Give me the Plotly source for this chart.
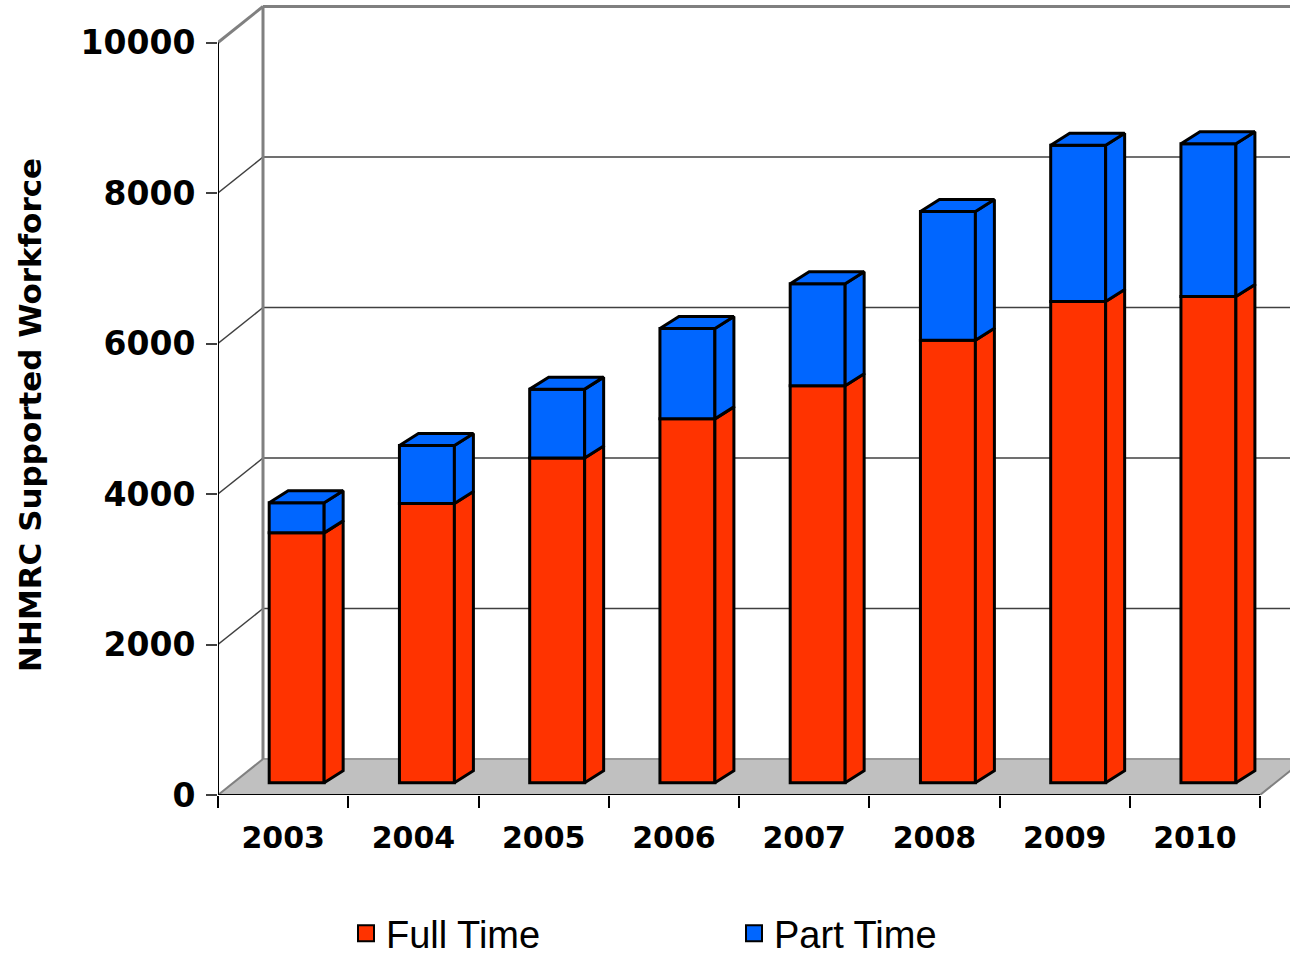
import plotly.graph_objects as go

# data
years = ['2003', '2004', '2005', '2006', '2007', '2008', '2009', '2010']
full_time = [3320, 3710, 4315, 4835, 5275, 5880, 6395, 6460]
part_time = [400, 770, 915, 1200, 1355, 1710, 2075, 2030]
y_ticks = [0, 2000, 4000, 6000, 8000, 10000]
y_tick_text = ['0', '2000', '4000', '6000', '8000', '10000']

RED = '#FF3300'
BLUE = '#0066FF'
GREY = '#808080'

########################################################################### geometry
W, H = 1290, 965
ML, MR, MT, MB = 218, 0, 5, 170
PX_X = 130.25      # px per category
PX_Y = 0.07525     # px per value unit
n = len(years)
x0 = -0.5
x_end = n - 0.5
x1 = x0 + (W - ML - MR) / PX_X
y1 = (H - MT - MB) / PX_Y
YMAX = 10000
DX, DY = 45 / PX_X, 36 / PX_Y       # depth of the walls / floor
BW = 0.422                          # bar width
BOFF = 0.104                        # bar front face offset from category centre
LIFT = 12.3 / PX_Y                  # bar front base above the floor front edge
BDX, BDY = 19 / PX_X, 12 / PX_Y     # bar depth

########################################################################### walls, floor, grid (shapes below traces)
shapes = []


def seg(xa, ya, xb, yb, color, width):
    shapes.append(dict(type='line', xref='x', yref='y', x0=xa, y0=ya, x1=xb, y1=yb,
                       line=dict(color=color, width=width), layer='below'))


floor_path = 'M {a},0 L {b},0 L {c},{d} L {e},{d} Z'.format(a=x0, b=x_end, c=x_end + DX, d=DY, e=x0 + DX)
shapes.append(dict(type='path', xref='x', yref='y', path=floor_path, fillcolor='#C0C0C0',
                   line=dict(width=0), layer='below'))
seg(x0 + DX, DY, x_end + DX, DY, '#9A9A9A', 2)
seg(x0, 0, x0 + DX, DY, GREY, 2)
seg(x_end, 0, x_end + DX, DY, GREY, 2)

for v in y_ticks[1:-1]:
    seg(x0, v, x0 + DX, v + DY, '#404040', 1.5)
    seg(x0 + DX, v + DY, x1 + 1, v + DY, '#404040', 1.5)

seg(x0 + DX, DY, x0 + DX, YMAX + DY, GREY, 3)
seg(x0, YMAX, x0 + DX, YMAX + DY, GREY, 3)
seg(x0 + DX, YMAX + DY, x1 + 1, YMAX + DY, GREY, 3)

# front axes
seg(x0, 0, x0, YMAX, 'black', 2)
seg(x0, 0, x_end, 0, 'black', 2)

########################################################################### bars
fig = go.Figure()

xs_front = [i + BOFF for i in range(n)]
fig.add_trace(go.Bar(x=xs_front, y=full_time, base=[LIFT] * n, width=BW, name='Full Time',
                     marker=dict(color=RED, line=dict(color='black', width=3)), showlegend=False))
fig.add_trace(go.Bar(x=xs_front, y=part_time, base=[LIFT + f for f in full_time], width=BW, name='Part Time',
                     marker=dict(color=BLUE, line=dict(color='black', width=3)), showlegend=False))


def side_faces(bottoms, tops):
    xs, ys = [], []
    for i in range(n):
        xr = i + BOFF + BW / 2
        b, t = bottoms[i], tops[i]
        xs += [xr, xr + BDX, xr + BDX, xr, xr, None]
        ys += [b, b + BDY, t + BDY, t, b, None]
    return xs, ys


red_b = [LIFT] * n
red_t = [LIFT + f for f in full_time]
blue_t = [LIFT + f + p for f, p in zip(full_time, part_time)]

for (bot, top, col) in [(red_b, red_t, RED), (red_t, blue_t, BLUE)]:
    sx, sy = side_faces(bot, top)
    fig.add_trace(go.Scatter(x=sx, y=sy, mode='lines', fill='toself', fillcolor=col,
                             line=dict(color='black', width=3), showlegend=False, hoverinfo='skip'))

tx, ty = [], []
for i in range(n):
    xl = i + BOFF - BW / 2
    xr = i + BOFF + BW / 2
    t = blue_t[i]
    tx += [xl, xl + BDX, xr + BDX, xr, xl, None]
    ty += [t, t + BDY, t + BDY, t, t, None]
fig.add_trace(go.Scatter(x=tx, y=ty, mode='lines', fill='toself', fillcolor=BLUE,
                         line=dict(color='black', width=3), showlegend=False, hoverinfo='skip'))

# legend entries
fig.add_trace(go.Scatter(x=[None], y=[None], mode='markers', name='Full Time', legend='legend',
                         marker=dict(symbol='square', size=16, color=RED, line=dict(color='black', width=2))))
fig.add_trace(go.Scatter(x=[None], y=[None], mode='markers', name='Part Time', legend='legend2',
                         marker=dict(symbol='square', size=16, color=BLUE, line=dict(color='black', width=2))))

# carrier for the boundary tick axis
fig.add_trace(go.Scatter(x=[None], y=[None], xaxis='x2', showlegend=False, hoverinfo='skip'))

########################################################################### layout
bold_font = dict(family='DejaVu Sans', weight='bold', color='black')
leg_font = dict(family='Liberation Sans', size=38, color='black')

fig.update_layout(
    width=W, height=H,
    margin=dict(l=ML, r=MR, t=MT, b=MB, autoexpand=False),
    paper_bgcolor='white', plot_bgcolor='white',
    barmode='overlay',
    shapes=shapes,
    xaxis=dict(range=[x0, x1], tickvals=list(range(n)), ticktext=years, ticks='',
               showgrid=False, zeroline=False, showline=False,
               tickfont=dict(size=30, **bold_font), ticklabelstandoff=22),
    xaxis2=dict(range=[x0, x1], overlaying='x', anchor='y', side='bottom',
                tickvals=[i - 0.5 for i in range(n + 1)], ticks='outside', ticklen=12, tickwidth=2,
                tickcolor='black', showticklabels=False, showgrid=False, zeroline=False, showline=False),
    yaxis=dict(range=[0, y1], tickvals=y_ticks, ticktext=y_tick_text, ticks='outside', ticklen=11, tickwidth=2,
               tickcolor='#404040', showgrid=False, zeroline=False, showline=False,
               tickfont=dict(size=33, **bold_font), ticklabelstandoff=4),
    annotations=[dict(text='NHMRC Supported Workforce', textangle=-90, xref='paper', yref='paper',
                      x=(30 - ML) / (W - ML - MR), y=(795 - 415) / (H - MT - MB),
                      xanchor='center', yanchor='middle', showarrow=False,
                      font=dict(size=31, **bold_font))],
    legend=dict(xref='container', yref='container', x=346 / W, y=0,
                xanchor='left', yanchor='bottom', font=leg_font, bgcolor='rgba(0,0,0,0)'),
    legend2=dict(xref='container', yref='container', x=734 / W, y=0,
                 xanchor='left', yanchor='bottom', font=leg_font, bgcolor='rgba(0,0,0,0)'),
)

fig.write_html('out.html', config={'displayModeBar': False},
               post_script="document.body.style.margin='0';")
